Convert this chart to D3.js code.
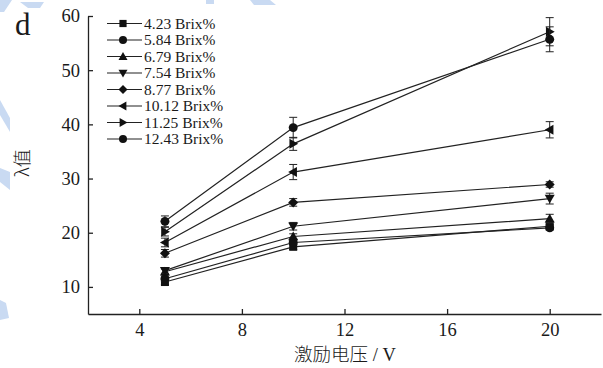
<!DOCTYPE html>
<html lang="zh">
<head>
<meta charset="utf-8">
<title>λ值 vs 激励电压</title>
<script src="https://cdn.jsdelivr.net/npm/d3@7"></script>
<style>
  body { margin: 0; background: #fff; }
  svg { display: block; }
  text { font-family: "Liberation Serif", "Times New Roman", serif; fill: #1a1a1a; }
  .cjk { font-family: "Noto Sans CJK SC", sans-serif; font-weight: 300; }
  .axis path, .axis line { stroke: #222; stroke-width: 1.3; }
  .axis text { font-size: 18.5px; }
  .series { fill: none; stroke: #222; stroke-width: 1.2; }
  .err { stroke: #222; stroke-width: 1; }
</style>
</head>
<body>
<svg id="chart" width="603" height="368"></svg>
<script>
// data
const voltages = [5, 10, 20];
const seriesNames = ["4.23 Brix%", "5.84 Brix%", "6.79 Brix%", "7.54 Brix%",
                     "8.77 Brix%", "10.12 Brix%", "11.25 Brix%", "12.43 Brix%"];
const seriesSymbols = ["square", "circle", "up", "down", "diamond", "left", "right", "circle"];
const lambdaValues = [
  [10.9, 17.4, 21.2],
  [11.5, 18.2, 20.9],
  [12.8, 19.3, 22.6],
  [13.0, 21.2, 26.3],
  [16.2, 25.6, 28.9],
  [18.2, 31.2, 39.0],
  [20.2, 36.4, 57.1],
  [22.1, 39.4, 55.7]
];
const lambdaErrors = [
  [0.5, 0.5, 0.3],
  [0.5, 0.4, 0.4],
  [0.5, 0.5, 0.8],
  [0.5, 0.7, 1.0],
  [0.7, 0.7, 0.5],
  [0.8, 1.4, 1.5],
  [0.8, 1.2, 2.6],
  [1.0, 1.9, 2.3]
];
const xTicks = [4, 8, 12, 16, 20];
const yTicks = [10, 20, 30, 40, 50, 60];

const svg = d3.select("#chart");

// faint blue watermark shapes from the scanned page
const wm = svg.append("g").attr("fill", "#c9daf2");
wm.append("path").attr("d", "M0,0 L12,0 L4,12 L0,12 Z");
wm.append("path").attr("d", "M20,2 L44,2 L40,8 L28,8 Z");
wm.append("path").attr("d", "M0,100 L10,118 L10,132 L0,115 Z");
wm.append("path").attr("d", "M0,168 L10,172 L10,190 L0,182 Z");
wm.append("path").attr("d", "M0,300 L6,303 L9,318 L0,320 Z");
wm.append("path").attr("d", "M206,0 L214,0 L214,4 L206,4 Z");
wm.append("path").attr("d", "M250,0 L270,0 L276,5 L254,5 Z");

const x = d3.scaleLinear().domain([2, 22]).range([88, 601]);
const y = d3.scaleLinear().domain([5, 60]).range([314, 16]);

svg.append("g")
  .attr("class", "axis")
  .attr("transform", `translate(0,${y(5)})`)
  .call(d3.axisBottom(x).tickValues(xTicks).tickSize(-5).tickPadding(9).tickSizeOuter(0))
  .call(g => g.selectAll("text").attr("dy", "0.71em"));

svg.append("g")
  .attr("class", "axis")
  .attr("transform", `translate(${x(2)},0)`)
  .call(d3.axisLeft(y).tickValues(yTicks).tickSize(-5).tickPadding(8).tickSizeOuter(0));

const symbolPath = (kind, s) => {
  switch (kind) {
    case "square": return `M${-s * 0.8},${-s * 0.8}H${s * 0.8}V${s * 0.8}H${-s * 0.8}Z`;
    case "circle": return d3.symbol(d3.symbolCircle, Math.PI * s * s * 0.8)();
    case "diamond": return `M0,${-s}L${s},0L0,${s}L${-s},0Z`;
    case "up": return `M0,${-s}L${s},${s * 0.75}L${-s},${s * 0.75}Z`;
    case "down": return `M0,${s}L${s},${-s * 0.75}L${-s},${-s * 0.75}Z`;
    case "left": return `M${-s},0L${s * 0.75},${-s}L${s * 0.75},${s}Z`;
    case "right": return `M${s},0L${-s * 0.75},${-s}L${-s * 0.75},${s}Z`;
  }
};

const line = d3.line().x(d => x(d.v)).y(d => y(d.l));

seriesNames.forEach((name, i) => {
  const pts = voltages.map((v, j) => ({ v, l: lambdaValues[i][j], e: lambdaErrors[i][j] }));
  const g = svg.append("g");
  g.append("path").attr("class", "series").attr("d", line(pts));
  pts.forEach(p => {
    const cx = x(p.v), y1 = y(p.l + p.e), y2 = y(p.l - p.e);
    g.append("line").attr("class", "err").attr("x1", cx).attr("x2", cx).attr("y1", y1).attr("y2", y2);
    g.append("line").attr("class", "err").attr("x1", cx - 4).attr("x2", cx + 4).attr("y1", y1).attr("y2", y1);
    g.append("line").attr("class", "err").attr("x1", cx - 4).attr("x2", cx + 4).attr("y1", y2).attr("y2", y2);
    g.append("path")
      .attr("d", symbolPath(seriesSymbols[i], 5))
      .attr("transform", `translate(${cx},${y(p.l)})`)
      .attr("fill", "#111");
  });
});

// legend
const legend = svg.append("g").attr("transform", "translate(107,23.5)");
seriesNames.forEach((name, i) => {
  const row = legend.append("g").attr("transform", `translate(0,${i * 16.5})`);
  row.append("line").attr("x1", 0).attr("x2", 35).attr("stroke", "#222").attr("stroke-width", 1.2);
  row.append("path").attr("d", symbolPath(seriesSymbols[i], 4.5)).attr("transform", "translate(16,0)").attr("fill", "#111");
  row.append("text").attr("x", 37).attr("dy", "0.35em").attr("font-size", 15.5).text(name);
});

// panel letter and axis titles
svg.append("text").attr("x", 15).attr("y", 35).attr("font-size", 31).text("d");

svg.append("text")
  .attr("class", "cjk")
  .attr("transform", "translate(23,163) rotate(-90)")
  .attr("text-anchor", "middle")
  .attr("dy", "0.35em")
  .attr("font-size", 18)
  .text("λ值");

svg.append("text")
  .attr("x", 345).attr("y", 361)
  .attr("text-anchor", "middle")
  .attr("font-size", 18.5)
  .call(t => {
    t.append("tspan").attr("class", "cjk").text("激励电压");
    t.append("tspan").text(" / V");
  });
</script>
</body>
</html>
